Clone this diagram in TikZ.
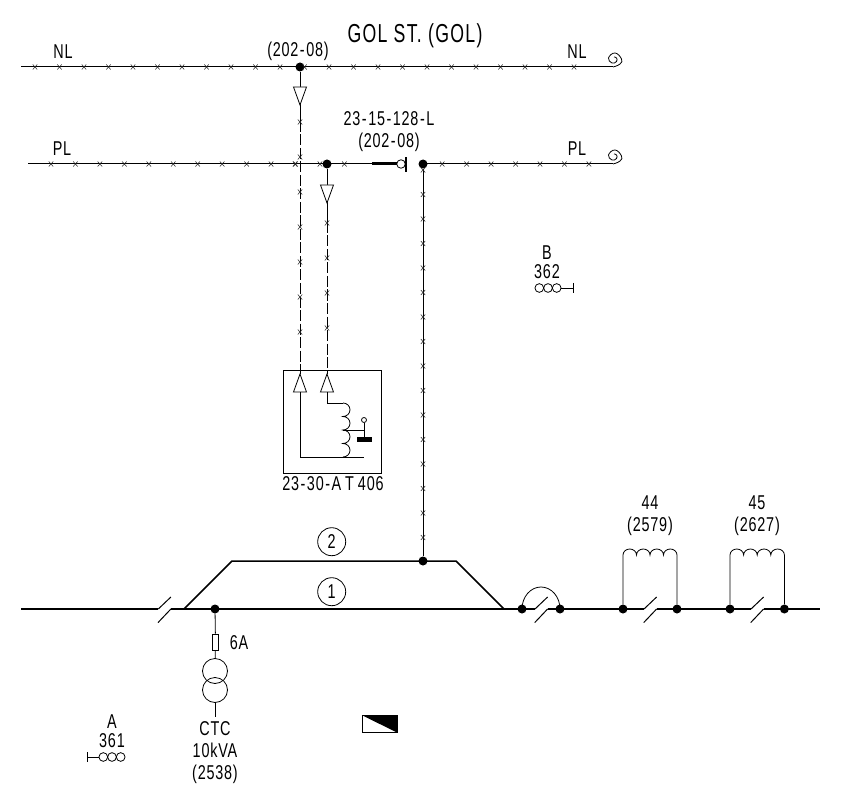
\documentclass[tikz,border=0pt]{standalone}
\usepackage{fontspec}
\setmainfont{Liberation Sans}[FakeStretch=0.72,LetterSpace=4]
\newfontfamily\titlefont{Liberation Sans}[FakeStretch=0.68,LetterSpace=5]
\newcommand{\hy}{\kern1.5pt-\kern1.5pt}
\usetikzlibrary{shapes.misc}
\tikzset{
	lbl/.style={inner sep=0pt,font=\fontsize{20}{22}\selectfont,align=center},
	dot/.style={shape=circle,fill=black,inner sep=0pt,minimum size=9pt},
	xmark/.style={shape=cross out,draw=black!85,line width=0.55pt,inner sep=0pt,outer sep=0pt,minimum width=4.5pt,minimum height=5pt},
	wire/.style={line width=1pt},
	thin wire/.style={line width=0.8pt},
	track/.style={line width=2.4pt},
	cable/.style={line width=1pt,dash pattern=on 11pt off 2.5pt},
	ring/.style={shape=circle,draw=black,line width=0.8pt,inner sep=0pt}
}
\begin{document}
\begin{tikzpicture}[x=1pt,y=-1pt]
	\useasboundingbox (0,0) rectangle (843,794);
	% texts
	\node [lbl,font=\titlefont\fontsize{26}{30}\selectfont] (title) at (415, 36) {GOL ST. (GOL)};
	\node [lbl] (nlleft) at (63, 52) {NL};
	\node [lbl] (nlright) at (577, 52) {NL};
	\node [lbl] (nlref) at (298, 51) {(202\hy08)};
	\node [lbl] (plleft) at (62, 149) {PL};
	\node [lbl] (plright) at (577, 149) {PL};
	\node [lbl] (brklabel) at (389, 132) {23\hy15\hy128\hy L\\(202\hy08)};
	\node [lbl] (bsig) at (547, 262) {B\\[-3pt]362};
	\node [lbl] (asig) at (112, 731) {A\\[-3pt]361};
	\node [lbl] (relaylabel) at (333, 484) {23\hy30\hy A\kern4pt T\kern4pt 406};
	\node [lbl] (lab44) at (650, 516) {44\\(2579)};
	\node [lbl] (lab45) at (757, 516) {45\\(2627)};
	\node [lbl] (fuselabel) at (239, 643) {6A};
	\node [lbl] (ctclabel) at (215, 753) {CTC\\10kVA\\(2538)};
	% junctions
	\node [dot] (nljoin) at (300, 67) {};
	\node [dot] (pljoin) at (327, 164) {};
	\node [dot] (brkjoin) at (423, 164) {};
	\node [dot] (trkjoin) at (423, 561) {};
	\node [dot] (ctcjoin) at (215, 609) {};
	\node [dot] (d1a) at (522, 609) {};
	\node [dot] (d1b) at (560, 609) {};
	\node [dot] (d44a) at (623, 609) {};
	\node [dot] (d44b) at (677, 609) {};
	\node [dot] (d45a) at (730, 609) {};
	\node [dot] (d45b) at (784.4, 609) {};
	% overhead lines
	\coordinate (nlstart) at (21, 67);
	\coordinate (nlend) at (613, 67);
	\coordinate (plstart) at (28, 164);
	\coordinate (plend) at (613, 164);
	\coordinate (brka) at (372, 164);
	\coordinate (brkb) at (397, 164);
	\draw [wire] (nlstart) to (nlend);
	\draw [wire] (plstart) to (brka);
	\draw [wire] (brkjoin.center) to (plend);
	\draw [line width=3pt] (brka) to (brkb);
	\node [ring,minimum size=8.5pt] (brkring) at (401, 164) {};
	\node [shape=rectangle,fill=black,inner sep=0pt,minimum width=2pt,minimum height=15pt] (brkbar) at (405.6, 164.5) {};
	\foreach \cy in {67,164} {
		\draw [thin wire,shift={(0,\cy)}] plot [smooth,tension=0.8] coordinates {(613,0) (620,-3) (621.5,-8) (615,-14) (608.5,-9) (612,-4) (616.5,-5.5) (616.5,-9) (614,-10)};
	}
	\foreach \n in {0,...,22} {
		\node [xmark] (nlx\n) at ({35+24.5*\n}, 67) {};
	}
	\foreach \n in {0,...,12,16,17,...,22} {
		\node [xmark] (plx\n) at ({51+24.45*\n}, 164) {};
	}
	\node [xmark] (plxa) at (295, 164) {};
	% feeders
	\coordinate (tipa) at (300, 105);
	\coordinate (tipb) at (327, 203);
	\coordinate (upa) at (300, 374);
	\coordinate (upb) at (327, 374);
	\coordinate (cuta) at (300, 121);
	\coordinate (cutb) at (327, 222);
	\draw [wire] (nljoin) to (tipa);
	\draw [wire] (tipa) to (cuta);
	\draw [cable] (cuta) to (upa);
	\draw [wire] (pljoin) to (tipb);
	\draw [wire] (tipb) to (cutb);
	\draw [cable] (cutb) to (upb);
	\draw [wire] (brkjoin) to (trkjoin);
	\draw [thin wire,fill=white] (tipa) -- ++(-6.5,-18) -- ++(13,0) -- cycle;
	\draw [thin wire,fill=white] (tipb) -- ++(-6.5,-18) -- ++(13,0) -- cycle;
	\foreach \cy in {122,157,192,227,262,297,332} {
		\node [xmark] (fax\cy) at (300, \cy) {};
	}
	\foreach \cy in {223,258,293,328} {
		\node [xmark] (fbx\cy) at (327, \cy) {};
	}
	\foreach \n in {0,...,15} {
		\node [xmark] (tx\n) at (423, {170+24.5*\n}) {};
	}
	% relay box
	\node [draw=black,line width=0.9pt,shape=rectangle,inner sep=0pt,minimum width=98.4pt,minimum height=103pt] (relaybox) at (332.5, 421.5) {};
	\draw [thin wire,fill=white] (upa) -- ++(-6.5,18) -- ++(13,0) -- cycle;
	\draw [thin wire,fill=white] (upb) -- ++(-6.5,18) -- ++(13,0) -- cycle;
	\coordinate (relaya) at (300, 392);
	\coordinate (relayb) at (327, 392);
	\coordinate (coila) at (343, 403);
	\coordinate (coilend) at (343, 457);
	\coordinate (coilmid) at (343, 430);
	\coordinate (relayend) at (364, 457);
	\draw [thin wire] (relaya) |- (relayend);
	\draw [thin wire] (relayb) |- (coila);
	\draw [thin wire] (coila) arc [start angle=-90,end angle=90,x radius=7,y radius=6.75] arc [start angle=-90,end angle=90,x radius=7,y radius=6.75] arc [start angle=-90,end angle=90,x radius=7,y radius=6.75] arc [start angle=-90,end angle=90,x radius=7,y radius=6.75];
	\node [ring,minimum size=5pt] (tapring) at (364, 420) {};
	\coordinate (tapcorner) at (364, 430);
	\node [shape=rectangle,fill=black,inner sep=0pt,minimum width=15pt,minimum height=5.5pt] (tapbar) at (364, 439.5) {};
	\draw [thin wire] (coilmid) to (tapcorner);
	\draw [thin wire] (tapring) to (tapbar);
	% tracks
	\coordinate (trkstart) at (21, 609);
	\coordinate (trkend) at (820, 609);
	\draw [track] (trkstart) to (158.3, 609);
	\draw [track] (170.7, 609) to (535, 609);
	\draw [track] (547.7, 609) to (644, 609);
	\draw [track] (656.7, 609) to (751, 609);
	\draw [track] (764, 609) to (trkend);
	\foreach \x in {158.3,535,644,751} {
		\draw [wire] (\x, 609) -- ++(12.6,-12);
		\draw [wire] ({\x+12.6}, 609) -- ++(-12.9,13.6);
	}
	\coordinate (siding1) at (184, 609);
	\coordinate (siding2) at (232, 561);
	\coordinate (siding3) at (456, 561);
	\coordinate (siding4) at (504, 609);
	\draw [line width=1.5pt] (siding1) -- (siding2) -- (siding3) -- (siding4);
	\node [ring,lbl,minimum size=28pt] (trk2) at (331.7, 541.7) {2};
	\node [ring,lbl,minimum size=28pt] (trk1) at (331.7, 591.7) {1};
	% bypass bonds
	\draw [thin wire] (d1a.center) arc [start angle=180,end angle=360,x radius=19,y radius=22];
	\draw [thin wire] (d44a) -- (623, 555) arc [start angle=180,end angle=360,x radius=6.75,y radius=6] arc [start angle=180,end angle=360,x radius=6.75,y radius=6] arc [start angle=180,end angle=360,x radius=6.75,y radius=6] arc [start angle=180,end angle=360,x radius=6.75,y radius=6] -- (d44b);
	\draw [thin wire] (d45a) -- (730, 555) arc [start angle=180,end angle=360,x radius=6.8,y radius=6] arc [start angle=180,end angle=360,x radius=6.8,y radius=6] arc [start angle=180,end angle=360,x radius=6.8,y radius=6] arc [start angle=180,end angle=360,x radius=6.8,y radius=6] -- (d45b);
	% ctc supply
	\node [shape=rectangle,draw=black,line width=0.8pt,inner sep=0pt,minimum width=5.6pt,minimum height=16pt] (fuse) at (215.5, 642) {};
	\node [ring,minimum size=25pt] (xfa) at (215, 671) {};
	\node [ring,minimum size=25pt] (xfb) at (215, 690) {};
	\coordinate (ctcend) at (215, 717);
	\draw [thin wire] (ctcjoin) to (fuse);
	\draw [thin wire] (fuse) to (xfa);
	\draw [thin wire] (xfb) to (ctcend);
	% signals
	\foreach \x [count=\n] in {103.3,112,120.7} {
		\node [ring,minimum size=8.7pt] (sa\n) at (\x, 757) {};
	}
	\foreach \x [count=\n] in {539.3,548,556.7} {
		\node [ring,minimum size=8.7pt] (sb\n) at (\x, 288) {};
	}
	\coordinate (sabar) at (87, 757);
	\coordinate (sbbar) at (573, 288);
	\draw [thin wire] (sa1) to (sabar);
	\draw [thin wire] (sabar) ++(0,-5) -- ++(0,10);
	\draw [thin wire] (sb3) to (sbbar);
	\draw [thin wire] (sbbar) ++(0,-5) -- ++(0,10);
	% end flag
	\draw [thin wire] (362.5, 715.5) rectangle (397, 732.5);
	\fill [black] (362.5, 715.5) -- (397, 715.5) -- (397, 732.5) -- cycle;
\end{tikzpicture}
\end{document}
